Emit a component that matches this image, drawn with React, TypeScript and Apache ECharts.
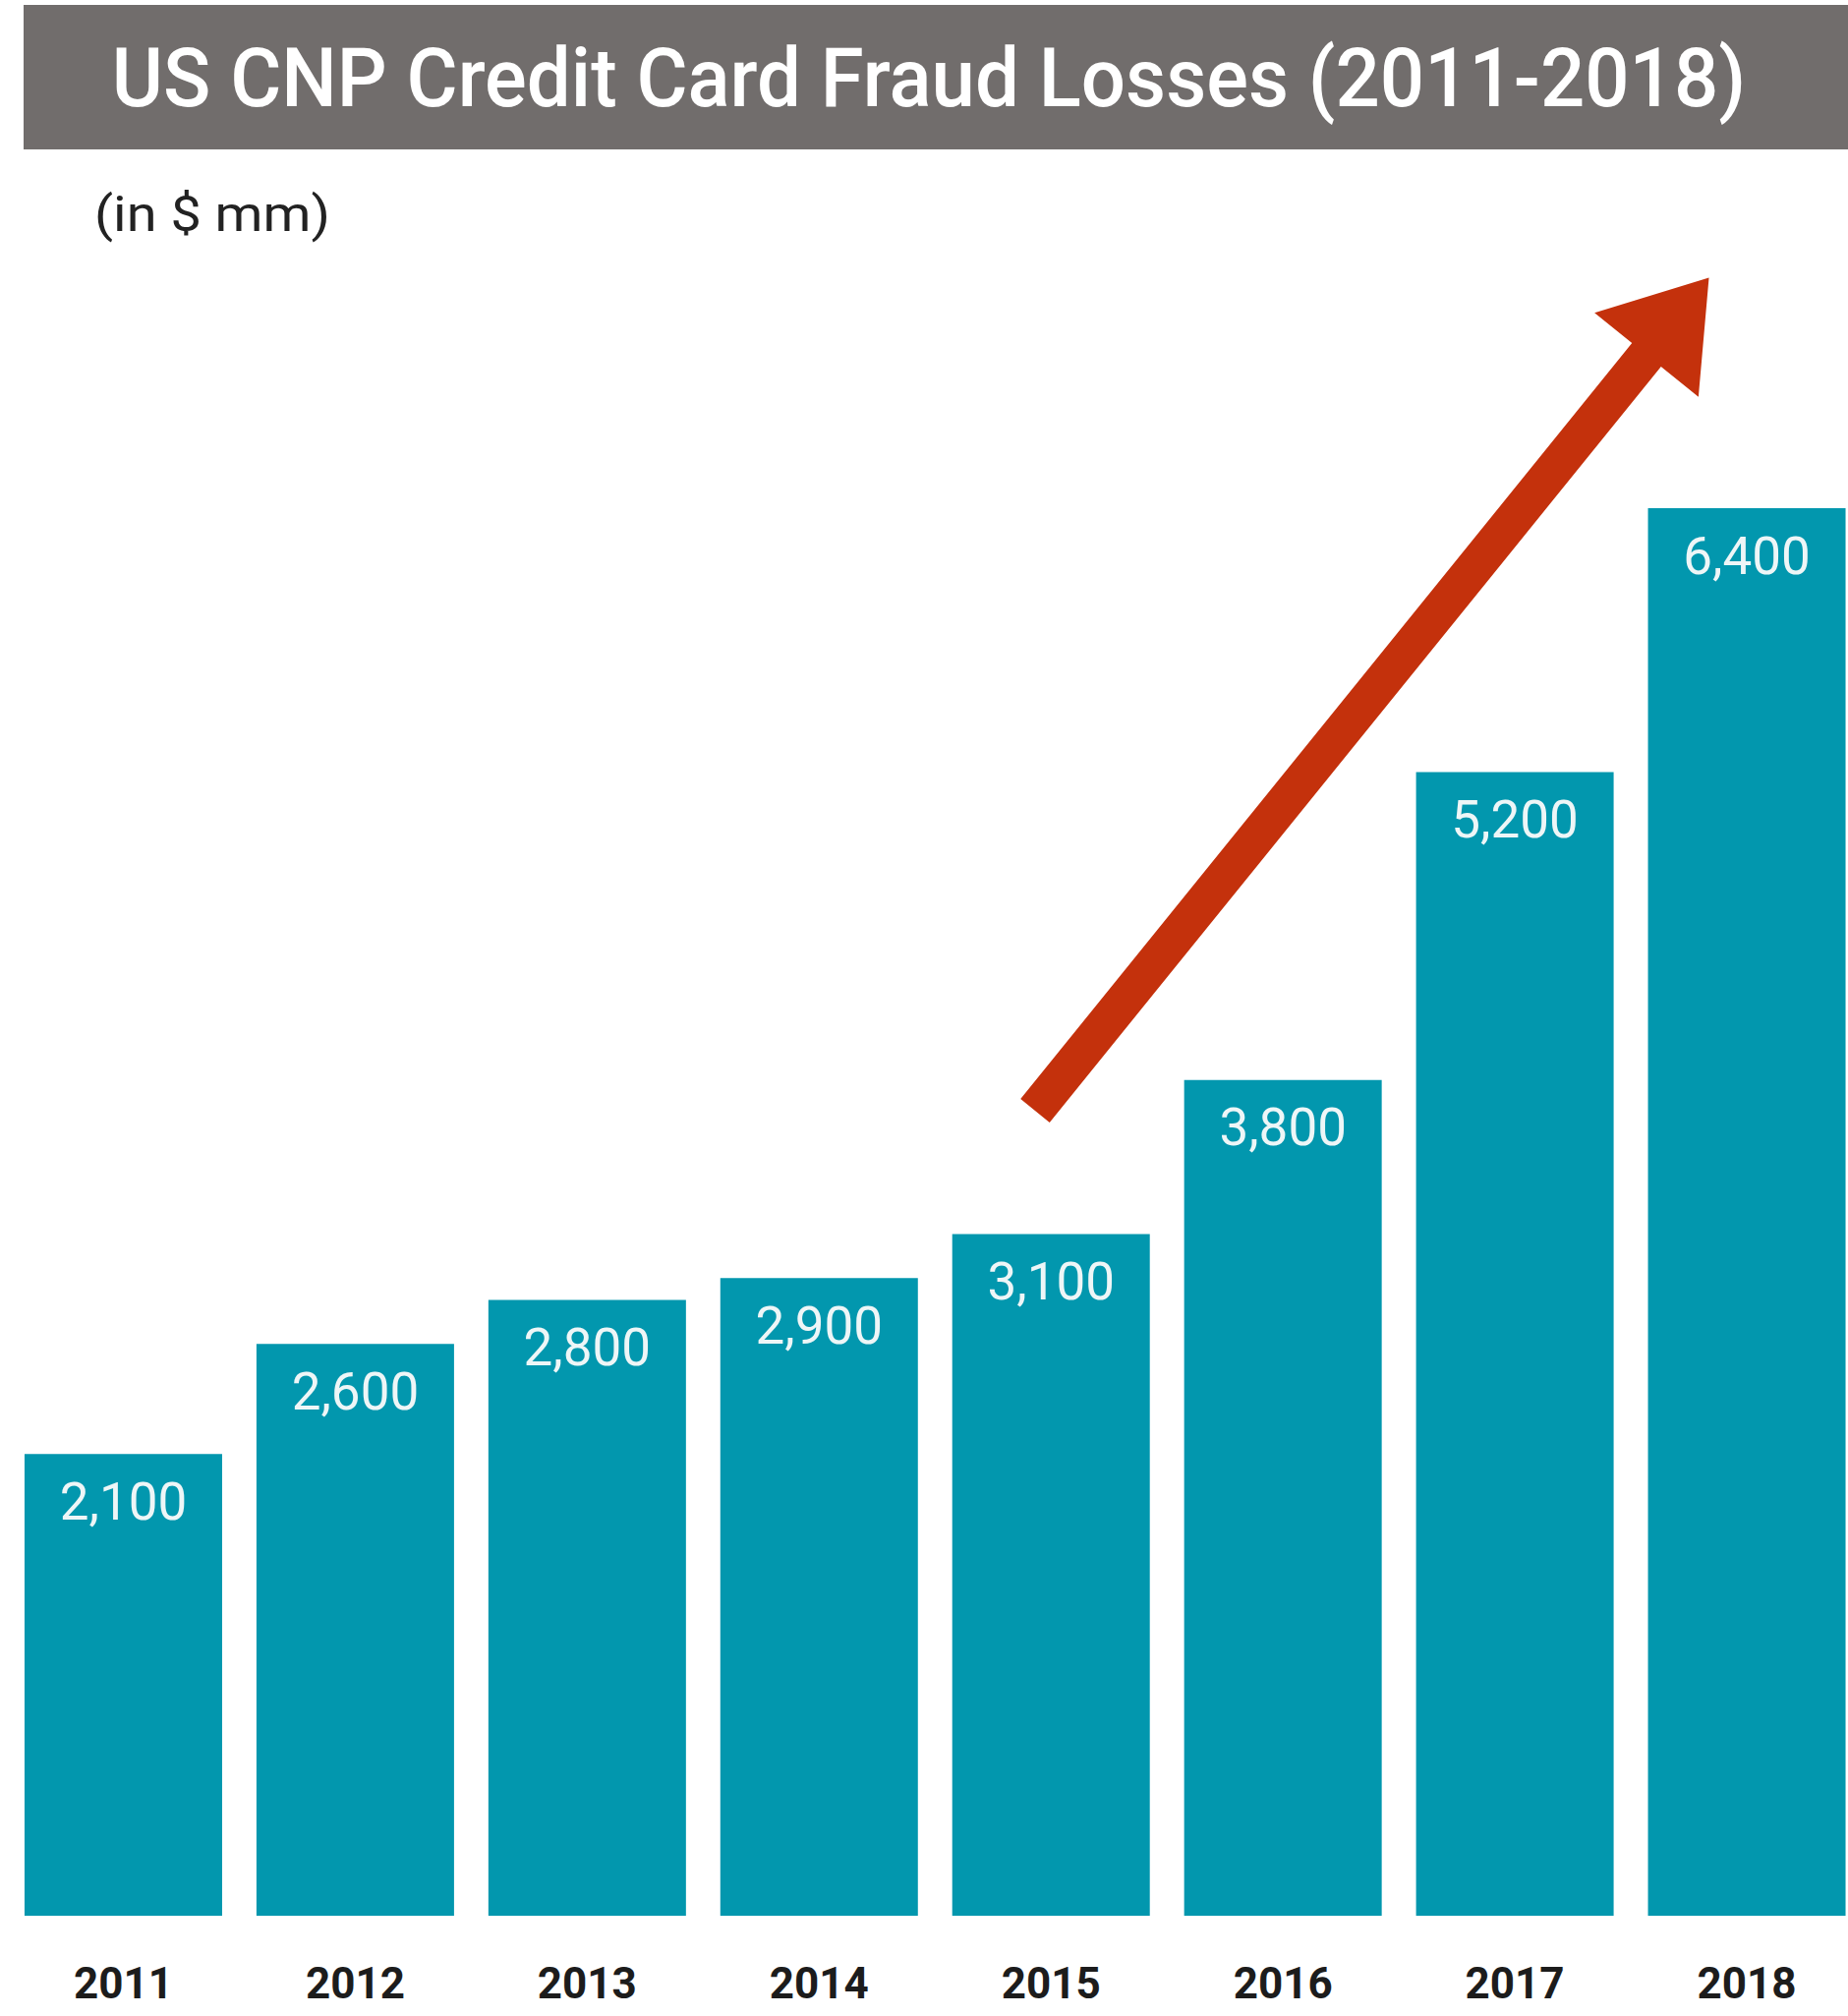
import React, { useEffect, useRef } from "react";
import * as echarts from "echarts";

const TITLE = "US CNP Credit Card Fraud Losses (2011-2018)";
const UNIT_NOTE = "(in $ mm)";
const years = ["2011", "2012", "2013", "2014", "2015", "2016", "2017", "2018"];
const losses = [2100, 2600, 2800, 2900, 3100, 3800, 5200, 6400];

const BAR_COLOR = "#0297ae";
const TITLE_BG = "#716d6c";
const ARROW_COLOR = "#c4310c";

function measure(text: string, font: string): number {
  const c = document.createElement("canvas").getContext("2d");
  if (!c) return 1;
  c.font = font;
  return c.measureText(text).width || 1;
}

function arrowPoints(): number[][] {
  const T = [1053, 1130];
  const B = [1675, 361];
  const dx = B[0] - T[0];
  const dy = B[1] - T[1];
  const len = Math.hypot(dx, dy);
  const u = [dx / len, dy / len];
  const n = [-u[1], u[0]];
  const hw = 19;
  const hh = 68;
  const headLen = 101;
  const tip = [B[0] + u[0] * headLen, B[1] + u[1] * headLen];
  return [
    [T[0] - n[0] * hw, T[1] - n[1] * hw],
    [B[0] - n[0] * hw, B[1] - n[1] * hw],
    [B[0] - n[0] * hh, B[1] - n[1] * hh],
    tip,
    [B[0] + n[0] * hh, B[1] + n[1] * hh],
    [B[0] + n[0] * hw, B[1] + n[1] * hw],
    [T[0] + n[0] * hw, T[1] + n[1] * hw],
  ];
}

export default function App() {
  const ref = useRef<HTMLDivElement>(null);
  useEffect(() => {
    if (!ref.current) return;
    const chart = echarts.init(ref.current, null, { renderer: "svg" });
    const titleFont = "500 84px Roboto";
    const titleScale = 1662 / measure(TITLE, titleFont);
    const noteFont = "400 50px Roboto";
    const noteScale = 240 / measure(UNIT_NOTE, noteFont);
    chart.setOption({
      animation: false,
      backgroundColor: "#ffffff",
      grid: { left: 7.5, right: 0, top: 159, bottom: 102, containLabel: false },
      xAxis: {
        type: "category",
        data: years,
        axisLine: { show: false },
        axisTick: { show: false },
        axisLabel: {
          margin: 47,
          fontFamily: "Roboto",
          fontWeight: "bold",
          fontSize: 44,
          color: "#1c1c1c",
        },
      },
      yAxis: {
        type: "value",
        min: 0,
        max: 8000,
        show: false,
        splitLine: { show: false },
      },
      series: [
        {
          type: "bar",
          data: losses,
          barWidth: 201,
          itemStyle: { color: BAR_COLOR },
          label: {
            show: true,
            position: "insideTop",
            distance: 22,
            fontFamily: "Roboto",
            fontSize: 53,
            color: "#eef6f7",
            formatter: (p: any) => Number(p.value).toLocaleString("en-US"),
          },
        },
      ],
      graphic: [
        {
          type: "rect",
          shape: { x: 24, y: 5, width: 1856, height: 147 },
          style: { fill: TITLE_BG },
          z: 10,
        },
        {
          type: "text",
          x: 945,
          y: 79,
          scaleX: titleScale,
          style: {
            text: TITLE,
            font: titleFont,
            fill: "#ffffff",
            textAlign: "center",
            textVerticalAlign: "middle",
          },
          z: 11,
        },
        {
          type: "text",
          x: 96,
          y: 218,
          scaleX: noteScale,
          style: {
            text: UNIT_NOTE,
            font: noteFont,
            fill: "#222222",
            textAlign: "left",
            textVerticalAlign: "middle",
          },
          z: 11,
        },
        {
          type: "polygon",
          shape: { points: arrowPoints() },
          style: { fill: ARROW_COLOR },
          z: 12,
        },
      ],
    });
    return () => chart.dispose();
  }, []);
  return (
    <div
      style={{
        position: "absolute",
        left: 0,
        top: 0,
        width: 1880,
        height: 2051,
        overflow: "hidden",
      }}
    >
      <div ref={ref} style={{ width: 1895, height: 2051 }} />
    </div>
  );
}
